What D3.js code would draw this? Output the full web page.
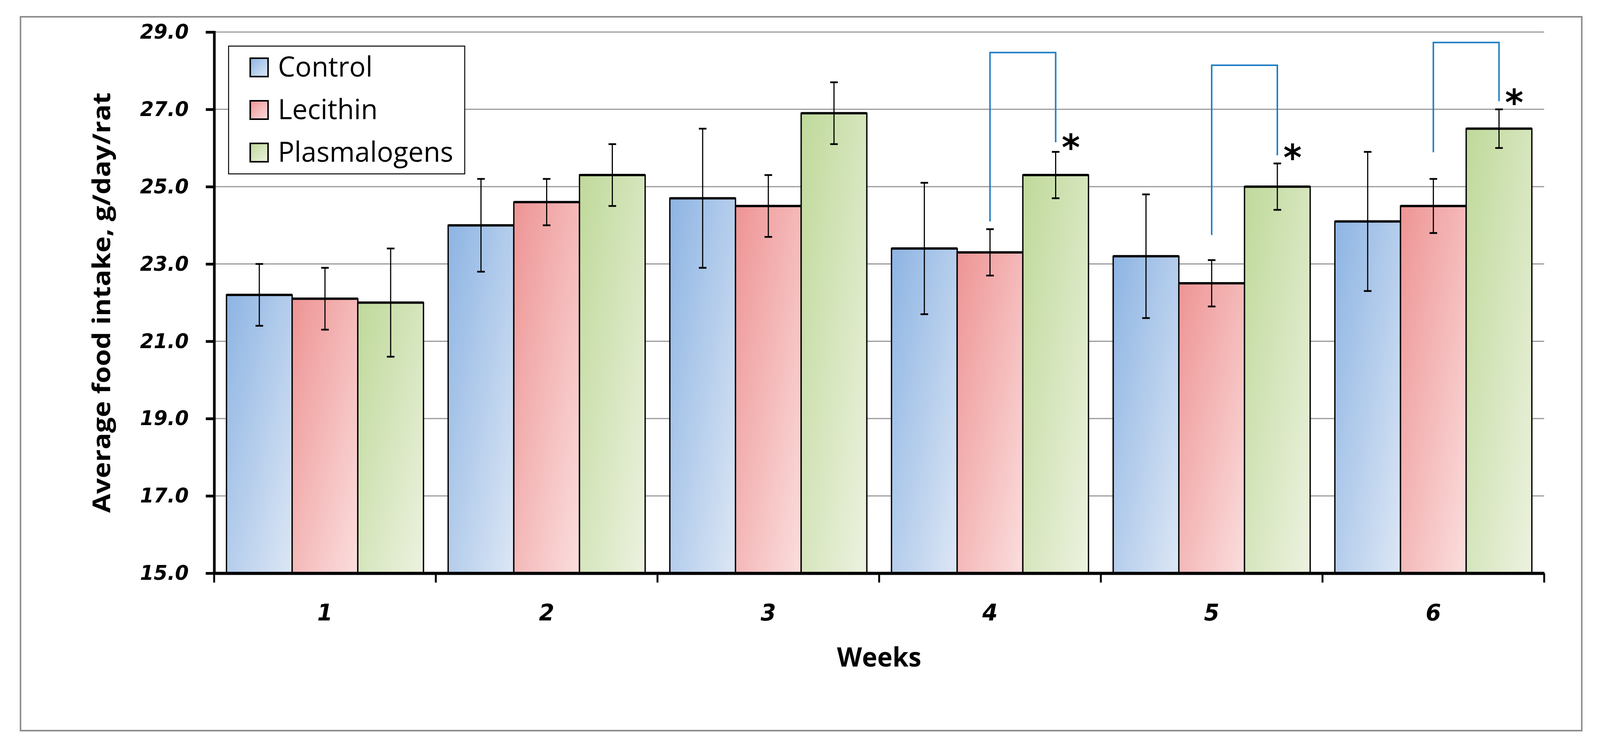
<!DOCTYPE html>
<html>
<head>
<meta charset="utf-8">
<script src="https://cdn.jsdelivr.net/npm/d3@7"></script>
<style>
  html, body { margin: 0; padding: 0; background: #fff; overflow: hidden; }
  #chart-area svg { display: block; }
</style>
</head>
<body>
<div id="chart-area"></div>
<script>
/* data */
const weeks = ["1", "2", "3", "4", "5", "6"]
const groups = ["Control", "Lecithin", "Plasmalogens"]
const controlMean = [22.2, 24.0, 24.7, 23.4, 23.2, 24.1]
const controlErr = [0.8, 1.2, 1.8, 1.7, 1.6, 1.8]
const lecithinMean = [22.1, 24.6, 24.5, 23.3, 22.5, 24.5]
const lecithinErr = [0.8, 0.6, 0.8, 0.6, 0.6, 0.7]
const plasmMean = [22.0, 25.3, 26.9, 25.3, 25.0, 26.5]
const plasmErr = [1.4, 0.8, 0.8, 0.6, 0.6, 0.5]
const yTicks = [15, 17, 19, 21, 23, 25, 27, 29]

// significance brackets (lecithin -> plasmalogens)
const sigWeeks = ["4", "5", "6"]
const bracketTop = [28.47, 28.14, 28.73]
const bracketLeftEnd = [24.10, 23.75, 25.89]
const bracketRightEnd = [26.15, 25.81, 27.21]
const starLevel = [26.17, 25.91, 27.33]

const W = 4214, H = 1917
const PLOT = { LEFT: 564, RIGHT: 4067, TOP: 82, BOTTOM: 1467 }

const svg = d3.select("#chart-area").append("svg")
  .attr("viewBox", `0 0 ${W} ${H}`)
  .attr("preserveAspectRatio", "none")
  .style("width", "100vw")
  .style("height", "100vh")

svg.append("rect")
  .attr("width", W).attr("height", H)
  .attr("fill", "#fff")

// outer frame
svg.append("rect")
  .attr("x", 54).attr("y", 43)
  .attr("width", 4112).attr("height", 1827)
  .attr("fill", "none")
  .attr("stroke", "#8c8c8c")
  .attr("stroke-width", 4)

// gradients, excel style
const gradColors = [
  ["#8db4e3", "#dde7f5"],
  ["#ee9494", "#fbdede"],
  ["#bfd99a", "#edf2e0"]
]
const defs = svg.append("defs")
gradColors.forEach((c, i) => {
  const lg = defs.append("linearGradient")
    .attr("id", "grad" + i)
    .attr("x1", 0).attr("y1", 0).attr("x2", 1).attr("y2", 1)
  lg.append("stop").attr("offset", "0%").attr("stop-color", c[0])
  lg.append("stop").attr("offset", "100%").attr("stop-color", c[1])
})

// scales
const x0 = d3.scaleBand().domain(weeks).range([PLOT.LEFT, PLOT.RIGHT])
const x1 = d3.scaleBand().domain(groups).range([32.5, x0.bandwidth() - 32.5])
const y = d3.scaleLinear().domain([15, 29]).range([PLOT.BOTTOM, PLOT.TOP])

// gridlines
svg.append("g").selectAll("line")
  .data(yTicks.slice(1))
  .enter().append("line")
  .attr("x1", PLOT.LEFT).attr("x2", PLOT.RIGHT)
  .attr("y1", d => y(d)).attr("y2", d => y(d))
  .attr("stroke", "#9a9a9a")
  .attr("stroke-width", 3)

// build rows
const means = [controlMean, lecithinMean, plasmMean]
const errs = [controlErr, lecithinErr, plasmErr]
const rows = []
weeks.forEach((w, i) => {
  groups.forEach((g, j) => {
    rows.push({ week: w, group: g, gi: j, mean: means[j][i], err: errs[j][i] })
  })
})

const bars = svg.append("g")
bars.selectAll("rect")
  .data(rows)
  .enter().append("rect")
  .attr("x", d => x0(d.week) + x1(d.group))
  .attr("y", d => y(d.mean))
  .attr("width", x1.bandwidth())
  .attr("height", d => y(15) - y(d.mean))
  .attr("fill", d => "url(#grad" + d.gi + ")")
  .attr("stroke", "#000")
  .attr("stroke-width", 3.5)

// thicker top edge
bars.selectAll("line.top")
  .data(rows)
  .enter().append("line")
  .attr("class", "top")
  .attr("x1", d => x0(d.week) + x1(d.group))
  .attr("x2", d => x0(d.week) + x1(d.group) + x1.bandwidth())
  .attr("y1", d => y(d.mean)).attr("y2", d => y(d.mean))
  .attr("stroke", "#000")
  .attr("stroke-width", 6)

// error bars
const eb = svg.append("g").attr("stroke", "#000")
const cx = d => x0(d.week) + x1(d.group) + x1.bandwidth() / 2
eb.selectAll("line.v")
  .data(rows)
  .enter().append("line")
  .attr("class", "v")
  .attr("x1", cx).attr("x2", cx)
  .attr("y1", d => y(d.mean + d.err))
  .attr("y2", d => y(d.mean - d.err))
  .attr("stroke-width", 3)
eb.selectAll("line.hi")
  .data(rows)
  .enter().append("line")
  .attr("class", "hi")
  .attr("x1", d => cx(d) - 10).attr("x2", d => cx(d) + 10)
  .attr("y1", d => y(d.mean + d.err)).attr("y2", d => y(d.mean + d.err))
  .attr("stroke-width", 4.5)
eb.selectAll("line.lo")
  .data(rows)
  .enter().append("line")
  .attr("class", "lo")
  .attr("x1", d => cx(d) - 10).attr("x2", d => cx(d) + 10)
  .attr("y1", d => y(d.mean - d.err)).attr("y2", d => y(d.mean - d.err))
  .attr("stroke-width", 4.5)

// y axis
const yAxis = svg.append("g")
  .attr("transform", `translate(${PLOT.LEFT},0)`)
  .call(d3.axisLeft(y).tickValues(yTicks).tickSize(22).tickPadding(45)
    .tickFormat(d3.format(".1f")))
yAxis.select(".domain").attr("stroke-width", 7)
yAxis.selectAll(".tick line").attr("stroke-width", 7)
yAxis.selectAll(".tick text")
  .style("font-family", "DejaVu Sans")
  .style("font-weight", "bold")
  .style("font-style", "oblique")
  .style("font-size", "52px")
  .attr("fill", "#000")

// x axis
const xAxis = svg.append("g")
  .attr("transform", `translate(0,${PLOT.BOTTOM})`)
  .call(d3.axisBottom(x0).tickSize(0).tickPadding(80))
xAxis.select(".domain").attr("stroke-width", 8)
xAxis.selectAll(".tick text")
  .style("font-family", "DejaVu Sans")
  .style("font-weight", "bold")
  .style("font-style", "oblique")
  .style("font-size", "58px")
  .attr("fill", "#000")
// category separators
xAxis.selectAll("line.sep")
  .data(weeks.concat(["end"]))
  .enter().append("line")
  .attr("class", "sep")
  .attr("x1", (d, i) => i < weeks.length ? x0(d) : PLOT.RIGHT)
  .attr("x2", (d, i) => i < weeks.length ? x0(d) : PLOT.RIGHT)
  .attr("y1", 0).attr("y2", 24)
  .attr("stroke", "#000")
  .attr("stroke-width", 5)

// axis titles
svg.append("text")
  .attr("transform", `translate(290,${(PLOT.TOP + PLOT.BOTTOM) / 2}) rotate(-90)`)
  .attr("text-anchor", "middle")
  .attr("textLength", 1076)
  .attr("lengthAdjust", "spacingAndGlyphs")
  .style("font-family", "Open Sans")
  .style("font-weight", "bold")
  .style("font-size", "64px")
  .text("Average food intake, g/day/rat")

svg.append("text")
  .attr("x", (PLOT.LEFT + PLOT.RIGHT) / 2)
  .attr("y", 1706)
  .attr("text-anchor", "middle")
  .style("font-family", "Open Sans")
  .style("font-weight", "bold")
  .style("font-size", "68px")
  .text("Weeks")

// significance brackets
const sig = sigWeeks.map((w, i) => ({
  week: w, top: bracketTop[i], left: bracketLeftEnd[i], right: bracketRightEnd[i], star: starLevel[i]
}))
const lx = d => x0(d.week) + x1("Lecithin") + x1.bandwidth() / 2
const rx = d => x0(d.week) + x1("Plasmalogens") + x1.bandwidth() / 2
const sg = svg.append("g")
sg.selectAll("path")
  .data(sig)
  .enter().append("path")
  .attr("d", d => `M${lx(d)},${y(d.left)}V${y(d.top)}H${rx(d)}V${y(d.right)}`)
  .attr("fill", "none")
  .attr("stroke", "#1f7fc4")
  .attr("stroke-width", 4)
sg.selectAll("text")
  .data(sig)
  .enter().append("text")
  .attr("x", d => rx(d) + 40)
  .attr("y", d => y(d.star) + 48)
  .attr("text-anchor", "middle")
  .style("font-family", "DejaVu Sans")
  .style("font-weight", "bold")
  .style("font-size", "92px")
  .text("*")

// legend
const legend = svg.append("g")
legend.append("rect")
  .attr("x", 602).attr("y", 118)
  .attr("width", 622).attr("height", 327)
  .attr("fill", "#fff")
  .attr("stroke", "#000")
  .attr("stroke-width", 2.5)
const li = legend.selectAll("g.item")
  .data(groups)
  .enter().append("g")
  .attr("class", "item")
  .attr("transform", (d, i) => `translate(659,${149 + i * 109})`)
li.append("rect")
  .attr("width", 47).attr("height", 47)
  .attr("fill", (d, i) => "url(#grad" + i + ")")
  .attr("stroke", "#000")
  .attr("stroke-width", 4)
li.append("text")
  .attr("x", 73).attr("y", 47)
  .style("font-family", "Open Sans")
  .style("font-size", "72px")
  .text(d => d)
</script>
</body>
</html>
